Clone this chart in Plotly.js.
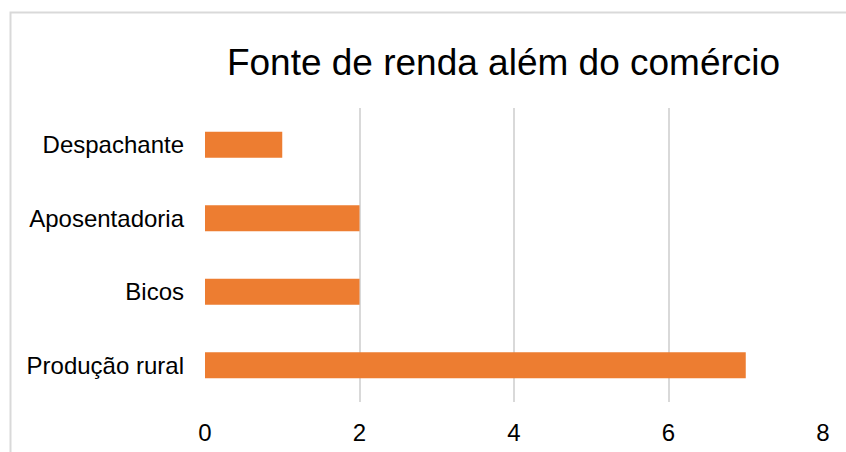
<!DOCTYPE html>
<html>
<head>
<meta charset="utf-8">
<script src="https://cdn.plot.ly/plotly-3.0.1.min.js"></script>
<style>
html,body{margin:0;padding:0;background:#fff;}
#chart{width:846px;height:452px;}
</style>
</head>
<body>
<div id="chart"></div>
<script>
const categories = ["Produção rural", "Bicos", "Aposentadoria", "Despachante"];
const values = [7, 2, 2, 1];
const xTicks = [0, 2, 4, 6, 8];
const titleText = "Fonte de renda além do comércio";

const W = 846, H = 452;
const L = 205, R = 23, T = 108, B = 50;
const pw = W - L - R, ph = H - T - B;

const trace = {
  type: "bar",
  orientation: "h",
  x: values,
  y: categories,
  marker: {color: "#ED7D31"},
  hoverinfo: "none"
};

const layout = {
  width: W, height: H,
  margin: {l: L, r: R, t: T, b: B, pad: 0},
  paper_bgcolor: "#ffffff",
  plot_bgcolor: "#ffffff",
  font: {family: "Liberation Sans, Arial, sans-serif", color: "#000000", size: 24},
  showlegend: false,
  bargap: 0.646,
  title: {
    text: titleText,
    font: {size: 37, color: "#000000", family: "Liberation Sans, Arial, sans-serif"},
    xref: "paper", x: (503.5 - L) / pw, xanchor: "center",
    yref: "container", y: 1 - 62 / H, yanchor: "middle"
  },
  xaxis: {
    range: [0, 8],
    tickvals: xTicks,
    ticktext: xTicks.map(String),
    showgrid: true, gridcolor: "#d9d9d9", gridwidth: 2,
    zeroline: false, showline: false,
    ticks: "", ticklabelstandoff: 14,
    tickfont: {size: 24, color: "#000000"},
    fixedrange: true
  },
  yaxis: {
    categoryorder: "array", categoryarray: categories,
    showgrid: false, zeroline: false, showline: false,
    ticks: "", ticklabelstandoff: 20,
    tickfont: {size: 24, color: "#000000"},
    fixedrange: true
  },
  shapes: [{
    type: "rect", xref: "paper", yref: "paper",
    x0: (10.5 - L) / pw, x1: (W + 20 - L) / pw,
    y0: -(H + 20 - T - ph) / ph, y1: (H - 12.5 - B) / ph,
    line: {color: "#d9d9d9", width: 2}, fillcolor: "rgba(0,0,0,0)", layer: "below"
  }]
};

Plotly.newPlot("chart", [trace], layout, {staticPlot: true, displayModeBar: false});
</script>
</body>
</html>
